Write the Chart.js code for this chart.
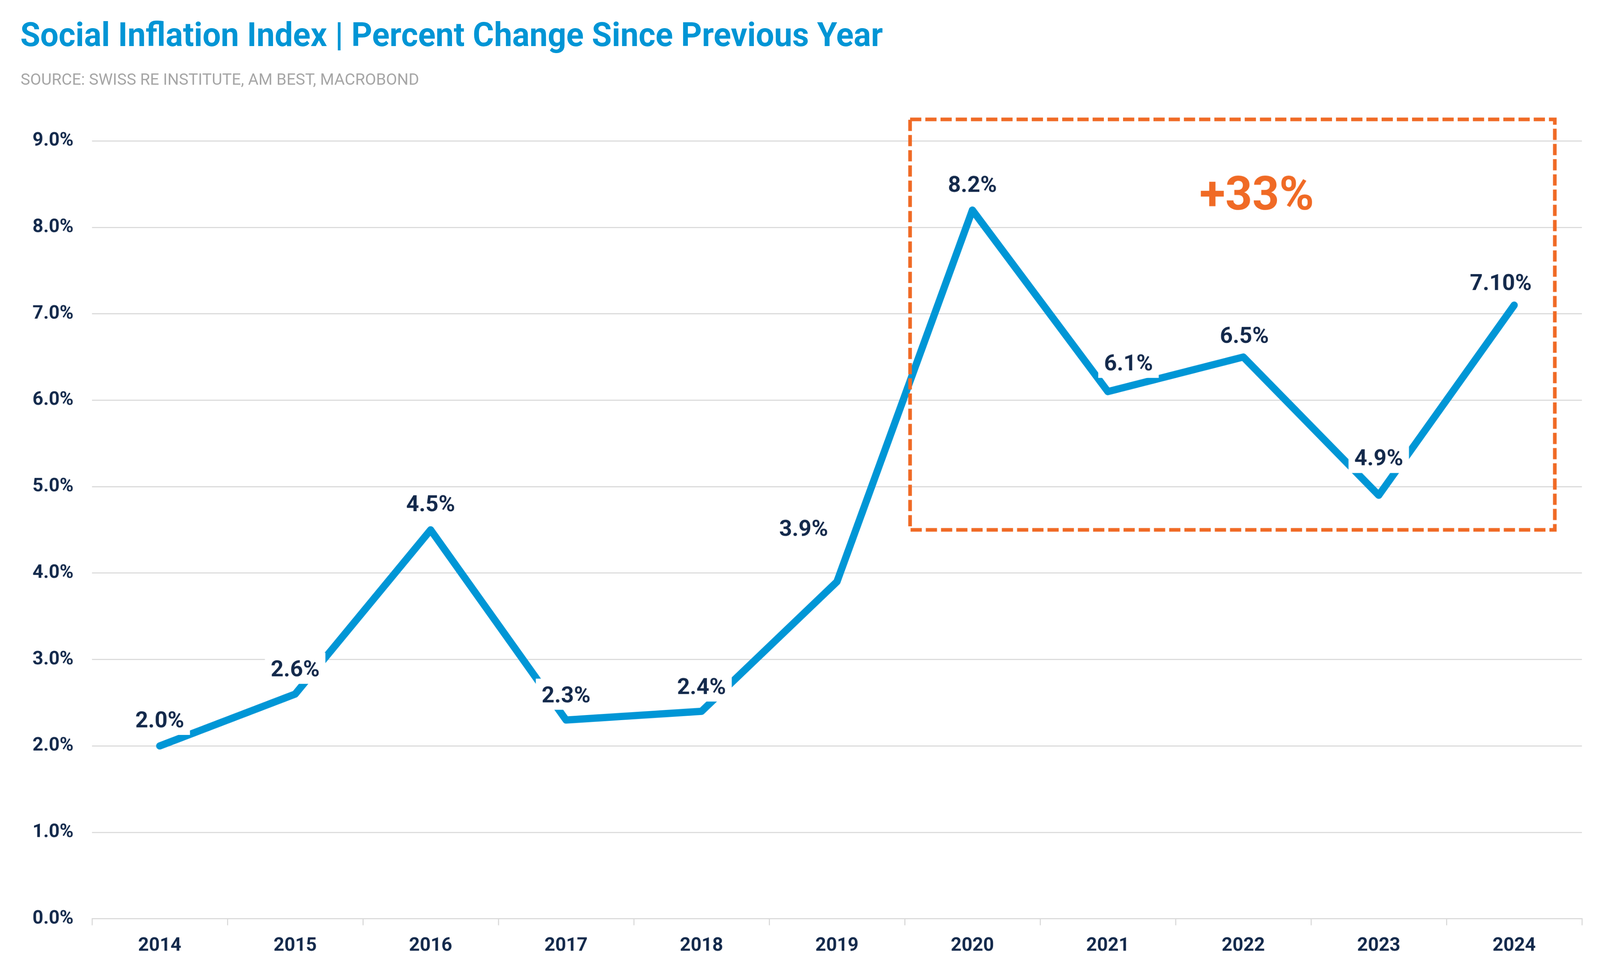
<!DOCTYPE html>
<html>
<head>
<meta charset="utf-8">
<script src="https://cdn.jsdelivr.net/npm/chart.js@4.4.1/dist/chart.umd.min.js"></script>
<style>
  html, body { margin: 0; padding: 0; background: #ffffff; overflow: hidden; }
  #wrap { position: absolute; left: 0; top: 0; width: 4418px; height: 2484px; overflow: hidden; background: #fff; transform-origin: left top; }
  #chart { position: absolute; left: 0; top: 0; }
  .title { position: absolute; left: 56px; top: 39px; font-family: Roboto, sans-serif; font-weight: 700;
           font-size: 91px; color: #0095D5; white-space: nowrap; transform-origin: left top; line-height: 1.2; }
  .sub { position: absolute; left: 57px; top: 179px; font-family: Roboto, sans-serif; font-weight: 400;
         font-size: 44px; color: #A6A6A6; white-space: nowrap; transform-origin: left top; line-height: 1.2; }
</style>
</head>
<body>
<div id="wrap">
  <canvas id="chart"></canvas>
  <div class="title" id="title">Social Inflation Index | Percent Change Since Previous Year</div>
  <div class="sub" id="sub">SOURCE: SWISS RE INSTITUTE, AM BEST, MACROBOND</div>
</div>
<script>
// ---- data ----
const years = ["2014","2015","2016","2017","2018","2019","2020","2021","2022","2023","2024"];
const socialInflation = [2.0, 2.6, 4.5, 2.3, 2.4, 3.9, 8.2, 6.1, 6.5, 4.9, 7.1];
const valueLabels = ["2.0%","2.6%","4.5%","2.3%","2.4%","3.9%","8.2%","6.1%","6.5%","4.9%","7.10%"];
const yTickValues = [0,1,2,3,4,5,6,7,8,9];
const highlightX = [5.54, 10.3];     // category index range of the highlight box
const highlightY = [4.5, 9.25];      // value range of the highlight box
const highlightText = "+33%";
const highlightTextPos = [8.1, 8.4];

// ---- label placement (style) ----
const labelDx = [0, 0, 0, 0, 0, -92, 0, 57, 3, 0, -37];
const labelDy = [-68, -66, -68, -66, -65, -138, -67, -75, -57, -97, -59];

// ---- fit the 4418-wide design into the actual viewport ----
const DESIGN_W = 4418, DESIGN_H = 2484;
const vw = window.innerWidth || DESIGN_W, vh = window.innerHeight || DESIGN_H;
const S = vw / DESIGN_W;
const H = Math.round(vh / S);          // design height filling the viewport
const K = H / DESIGN_H;                // vertical stretch factor (1 when aspect matches)

const wrap = document.getElementById('wrap');
wrap.style.height = H + 'px';
wrap.style.transform = 'scale(' + S + ')';
const canvas = document.getElementById('chart');
canvas.width = DESIGN_W; canvas.height = H;
canvas.style.width = DESIGN_W + 'px'; canvas.style.height = H + 'px';

const tEl = document.getElementById('title');
tEl.style.top = (39 * K) + 'px';
tEl.style.transform = 'scaleX(' + (2382 / tEl.offsetWidth) + ')';
const sEl = document.getElementById('sub');
sEl.style.top = (179 * K) + 'px';
sEl.style.transform = 'scaleX(' + (1100 / sEl.offsetWidth) + ')';

const NAVY = '#13294B';
const BLUE = '#0096D6';
const ORANGE = '#F06A25';
const GRID = '#D9D9D9';
const AREA_TOP = 361 * K, AREA_BOTTOM = 2353 * K;

const overlayPlugin = {
  id: 'overlay',
  afterDatasetsDraw(chart) {
    const ctx = chart.ctx;
    const xs = chart.scales.x, ys = chart.scales.y;
    const meta = chart.getDatasetMeta(0);
    ctx.save();
    ctx.font = '700 62px Roboto';
    ctx.textAlign = 'center';
    ctx.textBaseline = 'alphabetic';
    const cap = 44;
    meta.data.forEach((pt, i) => {
      const cx = pt.x + labelDx[i];
      const cy = pt.y + labelDy[i] * K;
      const w = ctx.measureText(valueLabels[i]).width;
      ctx.fillStyle = '#ffffff';
      ctx.fillRect(cx - w / 2 - 16, cy - cap / 2 - 21, w + 32, cap + 42);
      ctx.fillStyle = NAVY;
      ctx.fillText(valueLabels[i], cx, cy + cap / 2);
    });
    ctx.restore();

    const x0 = xs.getPixelForValue(highlightX[0]);
    const x1 = xs.getPixelForValue(highlightX[1]);
    const y0 = ys.getPixelForValue(highlightY[1]);
    const y1 = ys.getPixelForValue(highlightY[0]);
    ctx.save();
    ctx.strokeStyle = ORANGE;
    ctx.lineWidth = 10;
    ctx.setLineDash([31, 11]);
    ctx.strokeRect(x0, y0, x1 - x0, y1 - y0);
    ctx.setLineDash([]);
    ctx.fillStyle = ORANGE;
    ctx.font = '700 130px Roboto';
    ctx.textAlign = 'center';
    ctx.textBaseline = 'alphabetic';
    const tx = xs.getPixelForValue(highlightTextPos[0]);
    const ty = ys.getPixelForValue(highlightTextPos[1]);
    ctx.fillText(highlightText, tx, ty + 46);
    ctx.restore();
  }
};

new Chart(canvas, {
  type: 'line',
  data: {
    labels: years,
    datasets: [{
      data: socialInflation,
      borderColor: BLUE,
      backgroundColor: BLUE,
      borderWidth: 20,
      pointRadius: 0,
      tension: 0,
      borderCapStyle: 'round',
      borderJoinStyle: 'round',
      fill: false
    }]
  },
  options: {
    responsive: false,
    devicePixelRatio: 1,
    animation: false,
    layout: { padding: { left: 0, right: 50, top: AREA_TOP, bottom: 0 } },
    plugins: { legend: { display: false }, tooltip: { enabled: false }, title: { display: false } },
    scales: {
      x: {
        offset: true,
        afterFit(scale) { scale.height = H - AREA_BOTTOM; },
        grid: { display: true, drawOnChartArea: false, drawTicks: true, tickLength: 18, offset: true, color: GRID, lineWidth: 3 },
        border: { display: true, color: GRID, width: 3 },
        ticks: { color: NAVY, font: { family: 'Roboto', weight: '700', size: 52 }, padding: 24 * K, maxRotation: 0 }
      },
      y: {
        min: 0, max: 9,
        afterFit(scale) { scale.width = 254; },
        afterBuildTicks(scale) { scale.ticks = yTickValues.map(v => ({ value: v })); },
        grid: { color: GRID, lineWidth: 3, drawTicks: false },
        border: { display: false },
        ticks: { color: NAVY, font: { family: 'Roboto', weight: '700', size: 52 }, padding: 51,
                 callback: v => v.toFixed(1) + '%' }
      }
    }
  },
  plugins: [overlayPlugin]
});
</script>
</body>
</html>
